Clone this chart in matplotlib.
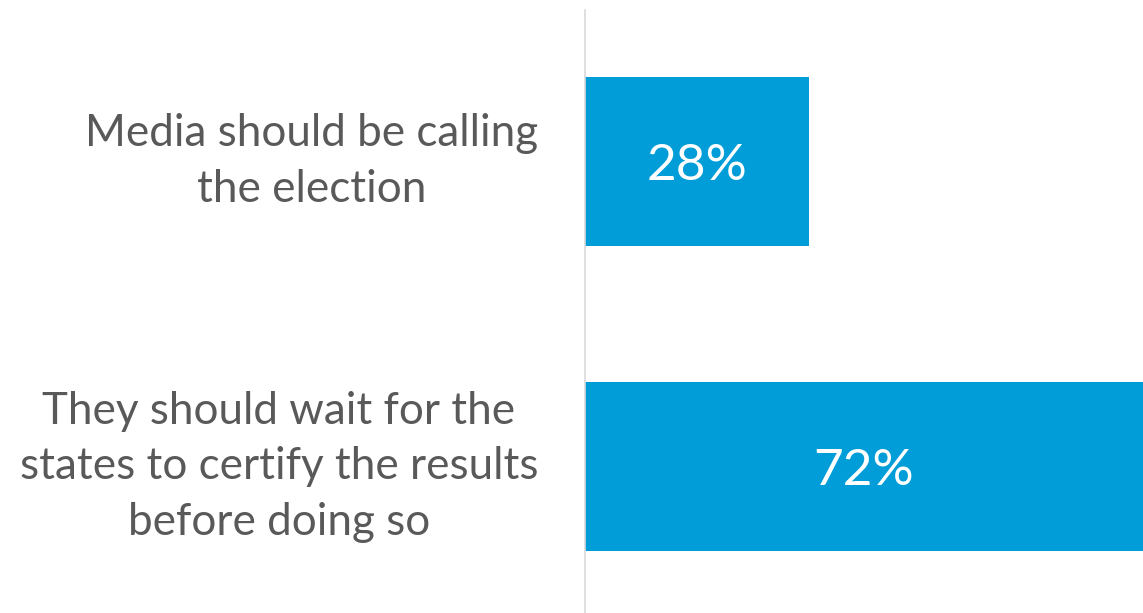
import matplotlib.pyplot as plt

plt.rcParams["font.family"] = "Lato"

# data
categories = ["Media should be calling\nthe election",
              "They should wait for the\nstates to certify the results\nbefore doing so"]
values = [28, 72]
value_labels = ["28%", "72%"]

fig = plt.figure(figsize=(11.43, 6.13), dpi=100)
fig.patch.set_facecolor("white")

# axes spans from the vertical line (x=585px) to the right edge
ax = fig.add_axes([585 / 1143, 0, 1 - 585 / 1143, 603 / 613])

ypos = list(range(len(categories)))
bars = ax.barh(ypos, values, height=0.554, color="#009DD9")

ax.set_xlim(0, 69.75)
ax.set_ylim(1.48, -0.497)

for b, lab in zip(bars, value_labels):
    x = min(b.get_width(), 69.75) / 2
    ax.text(x, b.get_y() + b.get_height() / 2 + 0.015, lab, ha="center", va="center",
            color="white", fontsize=37)

for y, cat in zip(ypos, categories):
    ax.text(-47 / 8, y, cat, ha="right", va="center", multialignment="center",
            color="#595959", fontsize=31.7, linespacing=1.44)

for s in ["top", "right", "bottom"]:
    ax.spines[s].set_visible(False)
ax.spines["left"].set_color("#D9D9D9")
ax.spines["left"].set_linewidth(1.2)
ax.set_xticks([])
ax.set_yticks([])

fig.savefig("out.png", dpi=100)
